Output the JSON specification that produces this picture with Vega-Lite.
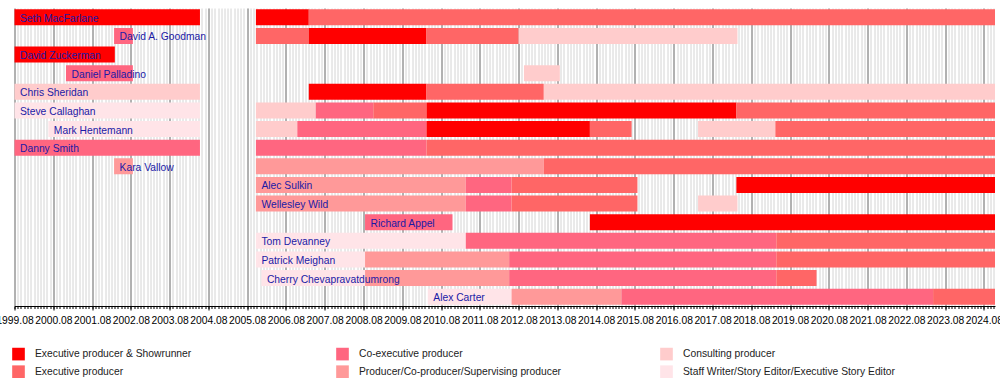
{
  "$schema": "https://vega.github.io/schema/vega-lite/v6.json",
  "width": 980.5,
  "height": 298,
  "autosize": {"type": "none"},
  "padding": {"left": 14.5, "top": 8, "right": 5, "bottom": 79},
  "config": {"font": "Liberation Sans", "view": {"stroke": null}},
  "data": {
    "values": [
      {"person": "Seth MacFarlane", "role": "Executive producer & Showrunner", "start": "1999-08-01", "end": "2004-05-13", "label": true},
      {"person": "Seth MacFarlane", "role": "Executive producer & Showrunner", "start": "2005-10-22", "end": "2007-03-04", "label": false},
      {"person": "Seth MacFarlane", "role": "Executive producer", "start": "2007-03-04", "end": "2024-11-13", "label": false},
      {"person": "David A. Goodman", "role": "Co-executive producer", "start": "2002-02-24", "end": "2002-08-20", "label": true},
      {"person": "David A. Goodman", "role": "Executive producer", "start": "2005-10-22", "end": "2007-03-04", "label": false},
      {"person": "David A. Goodman", "role": "Executive producer & Showrunner", "start": "2007-03-04", "end": "2010-03-17", "label": false},
      {"person": "David A. Goodman", "role": "Executive producer", "start": "2010-03-17", "end": "2012-08-01", "label": false},
      {"person": "David A. Goodman", "role": "Consulting producer", "start": "2012-08-01", "end": "2018-03-24", "label": false},
      {"person": "David Zuckerman", "role": "Executive producer & Showrunner", "start": "1999-08-01", "end": "2002-03-03", "label": true},
      {"person": "Daniel Palladino", "role": "Co-executive producer", "start": "2000-11-28", "end": "2002-08-20", "label": true},
      {"person": "Daniel Palladino", "role": "Consulting producer", "start": "2012-09-20", "end": "2013-08-24", "label": false},
      {"person": "Chris Sheridan", "role": "Consulting producer", "start": "1999-08-01", "end": "2004-05-13", "label": true},
      {"person": "Chris Sheridan", "role": "Executive producer & Showrunner", "start": "2007-03-04", "end": "2010-03-17", "label": false},
      {"person": "Chris Sheridan", "role": "Executive producer", "start": "2010-03-17", "end": "2013-03-26", "label": false},
      {"person": "Chris Sheridan", "role": "Consulting producer", "start": "2013-03-26", "end": "2024-11-13", "label": false},
      {"person": "Steve Callaghan", "role": "Staff Writer/Story Editor/Executive Story Editor", "start": "1999-08-01", "end": "2004-05-13", "label": true},
      {"person": "Steve Callaghan", "role": "Consulting producer", "start": "2005-10-22", "end": "2007-05-09", "label": false},
      {"person": "Steve Callaghan", "role": "Co-executive producer", "start": "2007-05-09", "end": "2008-11-01", "label": false},
      {"person": "Steve Callaghan", "role": "Executive producer", "start": "2008-11-01", "end": "2010-03-17", "label": false},
      {"person": "Steve Callaghan", "role": "Executive producer & Showrunner", "start": "2010-03-17", "end": "2018-03-14", "label": false},
      {"person": "Steve Callaghan", "role": "Executive producer", "start": "2018-03-14", "end": "2024-11-13", "label": false},
      {"person": "Mark Hentemann", "role": "Staff Writer/Story Editor/Executive Story Editor", "start": "2000-06-15", "end": "2004-05-13", "label": true},
      {"person": "Mark Hentemann", "role": "Consulting producer", "start": "2005-10-22", "end": "2006-11-16", "label": false},
      {"person": "Mark Hentemann", "role": "Co-executive producer", "start": "2006-11-16", "end": "2010-03-17", "label": false},
      {"person": "Mark Hentemann", "role": "Executive producer & Showrunner", "start": "2010-03-17", "end": "2014-06-03", "label": false},
      {"person": "Mark Hentemann", "role": "Executive producer", "start": "2014-06-03", "end": "2015-07-01", "label": false},
      {"person": "Mark Hentemann", "role": "Consulting producer", "start": "2017-03-18", "end": "2019-03-16", "label": false},
      {"person": "Mark Hentemann", "role": "Executive producer", "start": "2019-03-16", "end": "2024-11-13", "label": false},
      {"person": "Danny Smith", "role": "Co-executive producer", "start": "1999-08-01", "end": "2004-05-13", "label": true},
      {"person": "Danny Smith", "role": "Co-executive producer", "start": "2005-10-22", "end": "2010-03-17", "label": false},
      {"person": "Danny Smith", "role": "Executive producer", "start": "2010-03-17", "end": "2024-11-13", "label": false},
      {"person": "Kara Vallow", "role": "Producer/Co-producer/Supervising producer", "start": "2002-02-24", "end": "2002-08-20", "label": true},
      {"person": "Kara Vallow", "role": "Producer/Co-producer/Supervising producer", "start": "2005-10-22", "end": "2013-03-26", "label": false},
      {"person": "Kara Vallow", "role": "Executive producer", "start": "2013-03-26", "end": "2024-11-13", "label": false},
      {"person": "Alec Sulkin", "role": "Producer/Co-producer/Supervising producer", "start": "2005-10-22", "end": "2011-03-22", "label": true},
      {"person": "Alec Sulkin", "role": "Co-executive producer", "start": "2011-03-22", "end": "2012-05-26", "label": false},
      {"person": "Alec Sulkin", "role": "Executive producer", "start": "2012-05-26", "end": "2015-08-25", "label": false},
      {"person": "Alec Sulkin", "role": "Executive producer & Showrunner", "start": "2018-03-14", "end": "2024-11-13", "label": false},
      {"person": "Wellesley Wild", "role": "Producer/Co-producer/Supervising producer", "start": "2005-10-22", "end": "2011-03-22", "label": true},
      {"person": "Wellesley Wild", "role": "Co-executive producer", "start": "2011-03-22", "end": "2012-05-26", "label": false},
      {"person": "Wellesley Wild", "role": "Executive producer", "start": "2012-05-26", "end": "2015-08-25", "label": false},
      {"person": "Wellesley Wild", "role": "Consulting producer", "start": "2017-03-18", "end": "2018-03-24", "label": false},
      {"person": "Richard Appel", "role": "Co-executive producer", "start": "2008-08-15", "end": "2010-11-17", "label": true},
      {"person": "Richard Appel", "role": "Executive producer & Showrunner", "start": "2014-06-03", "end": "2024-11-13", "label": false},
      {"person": "Tom Devanney", "role": "Staff Writer/Story Editor/Executive Story Editor", "start": "2005-10-22", "end": "2011-03-22", "label": true},
      {"person": "Tom Devanney", "role": "Co-executive producer", "start": "2011-03-22", "end": "2019-03-25", "label": false},
      {"person": "Tom Devanney", "role": "Executive producer", "start": "2019-03-25", "end": "2024-11-13", "label": false},
      {"person": "Patrick Meighan", "role": "Staff Writer/Story Editor/Executive Story Editor", "start": "2005-10-22", "end": "2008-08-15", "label": true},
      {"person": "Patrick Meighan", "role": "Producer/Co-producer/Supervising producer", "start": "2008-08-15", "end": "2012-05-04", "label": false},
      {"person": "Patrick Meighan", "role": "Co-executive producer", "start": "2012-05-04", "end": "2019-03-25", "label": false},
      {"person": "Patrick Meighan", "role": "Executive producer", "start": "2019-03-25", "end": "2024-11-13", "label": false},
      {"person": "Cherry Chevapravatdumrong", "role": "Staff Writer/Story Editor/Executive Story Editor", "start": "2005-12-13", "end": "2008-08-15", "label": true},
      {"person": "Cherry Chevapravatdumrong", "role": "Producer/Co-producer/Supervising producer", "start": "2008-08-15", "end": "2012-05-04", "label": false},
      {"person": "Cherry Chevapravatdumrong", "role": "Co-executive producer", "start": "2012-05-04", "end": "2019-03-25", "label": false},
      {"person": "Cherry Chevapravatdumrong", "role": "Executive producer", "start": "2019-03-25", "end": "2020-04-07", "label": false},
      {"person": "Alex Carter", "role": "Staff Writer/Story Editor/Executive Story Editor", "start": "2010-03-29", "end": "2012-05-26", "label": true},
      {"person": "Alex Carter", "role": "Producer/Co-producer/Supervising producer", "start": "2012-05-26", "end": "2015-03-27", "label": false},
      {"person": "Alex Carter", "role": "Co-executive producer", "start": "2015-03-27", "end": "2023-04-10", "label": false},
      {"person": "Alex Carter", "role": "Executive producer", "start": "2023-04-10", "end": "2024-11-13", "label": false}
    ]
  },
  "encoding": {
    "y": {
      "field": "person",
      "type": "nominal",
      "sort": ["Seth MacFarlane", "David A. Goodman", "David Zuckerman", "Daniel Palladino", "Chris Sheridan", "Steve Callaghan", "Mark Hentemann", "Danny Smith", "Kara Vallow", "Alec Sulkin", "Wellesley Wild", "Richard Appel", "Tom Devanney", "Patrick Meighan", "Cherry Chevapravatdumrong", "Alex Carter"],
      "scale": {"paddingInner": 0.143, "paddingOuter": 0.0715},
      "axis": null
    }
  },
  "layer": [
    {
      "mark": {"type": "bar", "cornerRadius": 0},
      "encoding": {
        "x": {
          "field": "start",
          "type": "temporal",
          "scale": {"domain": [{"year": 1999, "month": 8, "date": 1}, {"year": 2024, "month": 11, "date": 13}], "nice": false},
          "axis": {
            "orient": "bottom",
            "tickCount": {"interval": "month", "step": 1},
            "labels": false,
            "grid": true,
            "gridColor": "#d4d4d4",
            "gridWidth": 1,
            "ticks": true,
            "tickSize": 2.5,
            "tickColor": "#000000",
            "domain": false,
            "title": null
          }
        },
        "x2": {"field": "end"},
        "color": {
          "field": "role",
          "type": "nominal",
          "scale": {
            "domain": ["Executive producer & Showrunner", "Executive producer", "Co-executive producer", "Producer/Co-producer/Supervising producer", "Consulting producer", "Staff Writer/Story Editor/Executive Story Editor"],
            "range": ["#FF0000", "#FF6666", "#FF6680", "#FF9999", "#FFCCCC", "#FFE4E8"]
          },
          "legend": {
            "orient": "none",
            "legendX": -2.5,
            "legendY": 339.5,
            "columns": 3,
            "gridAlign": "all",
            "columnPadding": 89,
            "rowPadding": 4.7,
            "symbolType": "square",
            "symbolSize": 160,
            "symbolStrokeWidth": 0,
            "symbolOpacity": 1,
            "labelFontSize": 10.3,
            "labelOffset": 10,
            "labelColor": "#222222",
            "labelLimit": 300,
            "title": null,
            "padding": 0
          }
        }
      }
    },
    {
      "transform": [{"filter": "datum.label"}],
      "mark": {"type": "text", "align": "left", "baseline": "middle", "dx": 5.5, "dy": 1.5, "fontSize": 10.3, "color": "#1a1aa6"},
      "encoding": {
        "x": {
          "field": "start",
          "type": "temporal",
          "axis": {
            "orient": "bottom",
            "values": [
              {"year": 1999, "month": 8, "date": 1}, {"year": 2000, "month": 8, "date": 1}, {"year": 2001, "month": 8, "date": 1}, {"year": 2002, "month": 8, "date": 1}, {"year": 2003, "month": 8, "date": 1}, {"year": 2004, "month": 8, "date": 1}, {"year": 2005, "month": 8, "date": 1}, {"year": 2006, "month": 8, "date": 1}, {"year": 2007, "month": 8, "date": 1}, {"year": 2008, "month": 8, "date": 1}, {"year": 2009, "month": 8, "date": 1}, {"year": 2010, "month": 8, "date": 1}, {"year": 2011, "month": 8, "date": 1}, {"year": 2012, "month": 8, "date": 1}, {"year": 2013, "month": 8, "date": 1}, {"year": 2014, "month": 8, "date": 1}, {"year": 2015, "month": 8, "date": 1}, {"year": 2016, "month": 8, "date": 1}, {"year": 2017, "month": 8, "date": 1}, {"year": 2018, "month": 8, "date": 1}, {"year": 2019, "month": 8, "date": 1}, {"year": 2020, "month": 8, "date": 1}, {"year": 2021, "month": 8, "date": 1}, {"year": 2022, "month": 8, "date": 1}, {"year": 2023, "month": 8, "date": 1}, {"year": 2024, "month": 8, "date": 1}
            ],
            "format": "%Y.%m",
            "labelFlush": false,
            "labelOverlap": false,
            "labelFontSize": 10.3,
            "labelColor": "#000000",
            "labelPadding": 5,
            "grid": true,
            "gridColor": "#7a7a7a",
            "gridWidth": 1,
            "tickSize": 4,
            "tickColor": "#000000",
            "domain": true,
            "domainColor": "#000000",
            "title": null
          }
        },
        "text": {"field": "person"}
      }
    }
  ],
  "resolve": {"axis": {"x": "independent"}}
}
